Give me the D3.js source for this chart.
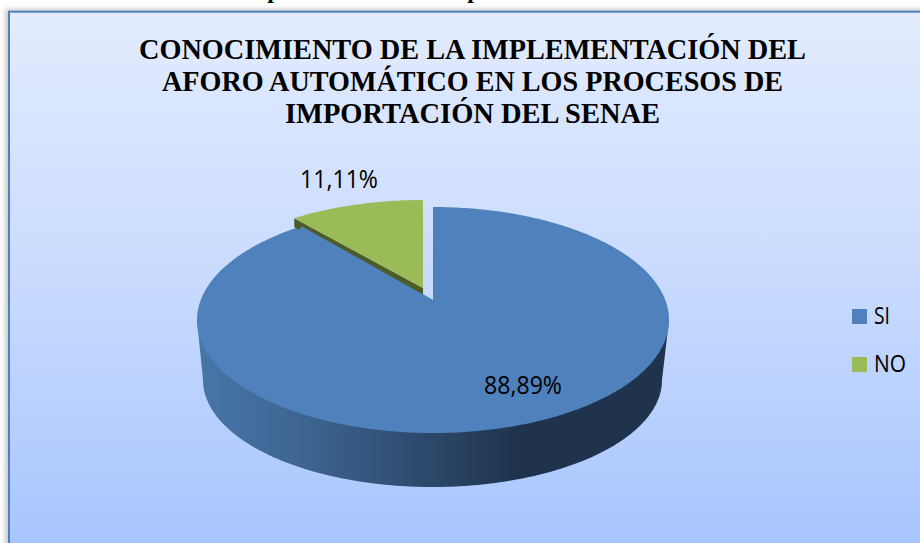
<!DOCTYPE html>
<html><head><meta charset="utf-8">
<script src="https://cdn.jsdelivr.net/npm/d3@7"></script>
<style>html,body{margin:0;padding:0;background:#fff;overflow:hidden}svg{display:block}</style>
</head><body><svg id="c" width="920" height="543"></svg>
<script>
const categories = ["SI", "NO"];
const values = [88.89, 11.11];
const valueLabels = ["88,89%", "11,11%"];
const titleLines = ["CONOCIMIENTO DE LA IMPLEMENTACIÓN DEL", "AFORO AUTOMÁTICO EN LOS PROCESOS DE", "IMPORTACIÓN DEL SENAE"];
const colors = ["#4f81bd", "#9bbb59"];
const clippedCaption = ["p", "p"];

(function () {
const svg = d3.select("#c");
const defs = svg.append("defs");
const bg = defs.append("linearGradient").attr("id","bg").attr("x1",0).attr("x2",0).attr("y1",0).attr("y2",1);
bg.append("stop").attr("offset",0).attr("stop-color","#e3ecfe");
bg.append("stop").attr("offset",0.5).attr("stop-color","#c8dafe");
bg.append("stop").attr("offset",1).attr("stop-color","#a5c4fe");
const wall = defs.append("linearGradient").attr("id","wall").attr("gradientUnits","userSpaceOnUse")
  .attr("x1",197).attr("x2",669).attr("y1",0).attr("y2",0);
[[0,"#4876a8"],[0.25,"#3c628f"],[0.5,"#2b4768"],[0.68,"#1f334c"],[1,"#1f334c"]]
  .forEach(([o,c])=>wall.append("stop").attr("offset",o).attr("stop-color",c));
const blur = defs.append("filter").attr("id","sh").attr("x","-5%").attr("width","110%");
blur.append("feGaussianBlur").attr("stdDeviation",2.5);

// caption clipped by the top of the picture
const serif = "'Liberation Serif','Times New Roman',serif";
svg.append("g").selectAll("text").data(clippedCaption).join("text")
  .attr("x",(d,i)=>274+i*200).attr("y",-2)
  .attr("text-anchor","middle").attr("font-family",serif).attr("font-weight","bold")
  .attr("font-size",24).attr("fill","#000").text(d=>d);

// frame
svg.append("rect").attr("x",5).attr("y",9).attr("width",930).attr("height",550).attr("fill","#999").attr("opacity",0.5).attr("filter","url(#sh)");
svg.append("rect").attr("x",9).attr("y",11.7).attr("width",930).attr("height",550)
  .attr("fill","url(#bg)").attr("stroke","#4f81bd").attr("stroke-width",2);

// projective mapping of a tilted circle: value angle -> picture coordinates
const tilt = 0.177;
function disc(cx, cy, rx, ry) {
  const sx = d3.scaleLinear().domain([-1,1]).range([cx-rx,cx+rx]);
  const sy = d3.scaleLinear().domain([-1,1]).range([cy+ry,cy-ry]);
  const f = a => {
    const u = Math.sin(a), v = Math.cos(a), d = 1 + tilt*v;
    return [sx(u*Math.sqrt(1-tilt*tilt)/d), sy((v+tilt)/d)];
  };
  f.centre = [sx(0), sy(tilt)];
  return f;
}
const line = d3.line();
const arcs = d3.pie().sort(null).startAngle(0).endAngle(2*Math.PI)(values);
function rimPts(map, a0, a1) {
  const n = Math.max(8, Math.ceil(Math.abs(a1-a0)*60));
  return d3.range(n+1).map(i => map(a0+(a1-a0)*i/n));
}

const face = disc(433, 320, 236, 113);
const low = disc(432.5, 380, 229.5, 107);

const g = svg.append("g");
// outer wall of the big slice: only the front half of the lower rim
const frontA = Math.acos(-tilt);
g.append("path")
  .attr("d", line([[197,320],[669,320]].concat(rimPts(low, frontA, 2*Math.PI-frontA)))+"Z")
  .attr("fill","url(#wall)");

// big slice top face
g.append("path").attr("d", line([face.centre].concat(rimPts(face, arcs[0].startAngle, arcs[0].endAngle)))+"Z")
  .attr("fill", colors[0]);

// small exploded slice
const gTop = disc(423, 307, 231, 107);
const a0 = arcs[1].startAngle, a1 = arcs[1].endAngle;
const edge = gTop(a0);
g.append("path").attr("d", line([gTop.centre,[gTop.centre[0],gTop.centre[1]+7],[edge[0],edge[1]+9],edge])+"Z").attr("fill","#4d5c27");
g.append("path").attr("d", line([gTop.centre].concat(rimPts(gTop,a0,a1)))+"Z").attr("fill", colors[1]);

// big slice overlaps the foot of the small slice's side
const bigEdge = face(a0);
g.append("path").attr("d", line([face.centre,bigEdge,[bigEdge[0]-8,bigEdge[1]+14],[face.centre[0]-8,face.centre[1]+14]])+"Z").attr("fill", colors[0]);

// title
const titleWidths = [667, 621, 375];
svg.append("g").selectAll("text").data(titleLines).join("text")
  .attr("x",472.5).attr("y",(d,i)=>59+i*32)
  .attr("text-anchor","middle").attr("font-family",serif).attr("font-weight","bold")
  .attr("font-size",29).attr("fill","#000")
  .attr("textLength",(d,i)=>titleWidths[i]).attr("lengthAdjust","spacingAndGlyphs").text(d=>d);

// data labels
const sans = "'Open Sans','Noto Sans',sans-serif";
const labelPos = [[523,394],[339,188]];
svg.append("g").selectAll("text").data(valueLabels).join("text")
  .attr("x",(d,i)=>labelPos[i][0]).attr("y",(d,i)=>labelPos[i][1])
  .attr("text-anchor","middle").attr("font-family",sans).attr("font-size",25).attr("fill","#000")
  .attr("textLength",78).attr("lengthAdjust","spacingAndGlyphs").text(d=>d);

// legend
const legendWidths = [16, 32];
const lg = svg.append("g").selectAll("g").data(categories).join("g")
  .attr("transform",(d,i)=>`translate(852,${309+i*48})`);
lg.append("rect").attr("width",15).attr("height",15).attr("fill",(d,i)=>colors[i]);
lg.append("text").attr("x",22).attr("y",15).attr("font-family",sans).attr("font-size",24).attr("fill","#000")
  .attr("textLength",(d,i)=>legendWidths[i]).attr("lengthAdjust","spacingAndGlyphs").text(d=>d);
})();
</script></body></html>
